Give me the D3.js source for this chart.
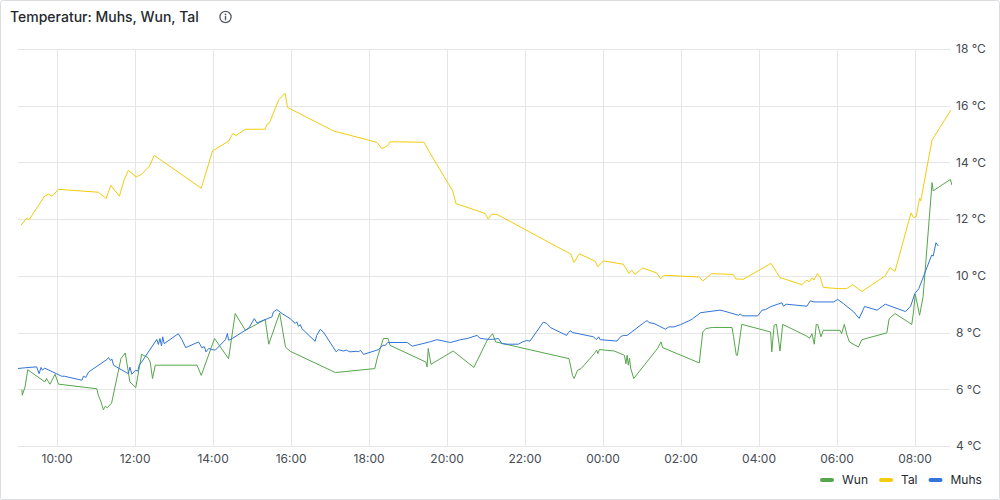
<!DOCTYPE html>
<html>
<head>
<meta charset="utf-8">
<script src="https://cdn.jsdelivr.net/npm/d3@7"></script>
<style>
  html, body { margin: 0; padding: 0; background: #fff; }
  svg { display: block; font-family: Inter, "Noto Sans", sans-serif; }
</style>
</head>
<body>
<svg id="chart" width="1000" height="500"></svg>
<script>
// time in hours since midnight of day 1 (values > 24 are the next day), temperature in °C
const talTimes = [9.09, 9.22, 9.30, 9.69, 9.79, 9.88, 10.05, 11.07, 11.27, 11.39, 11.61, 11.73, 11.84, 12.04, 12.18, 12.38, 12.42, 12.50, 13.71, 14.00, 14.41, 14.52, 14.60, 14.84, 15.35, 15.39, 15.46, 15.70, 15.86, 15.92, 17.10, 18.21, 18.34, 18.48, 18.55, 19.42, 19.58, 20.16, 20.24, 20.99, 21.07, 21.16, 21.29, 22.91, 23.12, 23.18, 23.27, 23.40, 23.81, 23.88, 24.02, 24.53, 24.68, 24.75, 24.83, 25.03, 25.39, 25.49, 25.58, 26.48, 26.57, 26.80, 27.35, 27.42, 27.61, 28.32, 28.55, 29.11, 29.24, 29.30, 29.38, 29.42, 29.51, 29.58, 29.66, 30.05, 30.26, 30.41, 30.65, 31.25, 31.37, 31.50, 31.91, 31.97, 32.04, 32.13, 32.16, 32.45, 32.93];
const talValues = [11.79, 12.02, 11.99, 12.81, 12.88, 12.81, 13.05, 12.95, 12.73, 13.19, 12.81, 13.38, 13.72, 13.49, 13.58, 13.87, 13.98, 14.25, 13.09, 14.41, 14.75, 15.02, 14.95, 15.17, 15.17, 15.34, 15.40, 16.22, 16.44, 15.94, 15.11, 14.71, 14.49, 14.58, 14.73, 14.71, 14.32, 12.99, 12.55, 12.20, 12.00, 12.17, 12.17, 10.97, 10.82, 10.78, 10.47, 10.78, 10.52, 10.32, 10.53, 10.41, 10.08, 10.20, 10.05, 10.28, 10.10, 9.90, 10.02, 9.96, 9.82, 10.08, 10.05, 9.89, 9.88, 10.44, 9.94, 9.69, 9.85, 9.79, 9.93, 9.85, 10.08, 9.96, 9.59, 9.55, 9.55, 9.69, 9.45, 10.00, 10.29, 10.16, 12.22, 12.06, 12.08, 12.73, 12.65, 14.79, 15.84];

const muhsTimes = [8.99, 9.20, 9.49, 9.55, 9.60, 9.64, 9.69, 10.13, 10.20, 10.65, 10.69, 10.75, 10.82, 11.29, 11.33, 11.38, 11.42, 11.46, 11.84, 11.88, 11.93, 12.02, 12.08, 12.12, 12.18, 12.57, 12.61, 12.65, 12.69, 12.72, 12.76, 13.12, 13.21, 13.31, 13.64, 13.68, 13.72, 13.79, 13.83, 13.90, 13.98, 14.07, 14.33, 14.38, 14.41, 14.48, 14.93, 15.07, 15.14, 15.35, 15.52, 15.56, 15.65, 15.78, 15.99, 16.12, 16.16, 16.20, 16.25, 16.29, 16.63, 16.67, 16.76, 16.84, 17.17, 17.23, 17.35, 17.43, 17.52, 17.70, 17.75, 17.79, 17.87, 18.26, 18.32, 18.37, 18.43, 18.49, 18.99, 19.12, 19.42, 19.59, 19.75, 20.10, 20.36, 20.53, 20.78, 20.86, 21.00, 21.17, 21.33, 21.42, 21.55, 21.84, 21.95, 22.05, 22.14, 22.48, 22.57, 22.66, 23.08, 23.12, 23.17, 23.24, 23.77, 23.84, 23.90, 23.94, 24.37, 24.46, 24.53, 24.63, 25.10, 25.15, 25.19, 25.32, 25.61, 25.70, 25.83, 26.00, 26.24, 26.30, 26.47, 26.51, 27.01, 27.11, 27.49, 27.53, 27.58, 27.98, 28.09, 28.18, 28.30, 28.60, 28.64, 28.71, 29.24, 29.33, 29.42, 29.93, 30.03, 30.18, 30.44, 30.58, 30.72, 31.04, 31.25, 31.77, 31.90, 32.01, 32.11, 32.44, 32.48, 32.55, 32.61];
const muhsValues = [6.73, 6.76, 6.79, 6.55, 6.77, 6.67, 6.75, 6.46, 6.46, 6.32, 6.46, 6.42, 6.61, 7.05, 7.12, 7.02, 7.06, 6.85, 6.55, 6.78, 6.53, 6.67, 6.64, 6.85, 6.96, 7.76, 7.58, 7.79, 7.53, 7.85, 7.61, 7.96, 7.76, 7.47, 7.67, 7.58, 7.47, 7.50, 7.32, 7.44, 7.40, 7.38, 7.75, 7.97, 7.73, 7.77, 8.16, 8.49, 8.34, 8.46, 8.55, 8.73, 8.81, 8.67, 8.49, 8.32, 8.38, 8.22, 8.28, 8.14, 7.69, 7.90, 8.11, 8.02, 7.32, 7.40, 7.35, 7.38, 7.32, 7.34, 7.32, 7.38, 7.23, 7.40, 7.49, 7.55, 7.55, 7.65, 7.65, 7.52, 7.62, 7.68, 7.75, 7.65, 7.75, 7.79, 7.90, 7.80, 7.77, 7.76, 7.79, 7.61, 7.59, 7.59, 7.67, 7.72, 7.70, 8.37, 8.32, 8.18, 7.90, 8.00, 8.06, 8.00, 7.85, 7.75, 7.85, 7.75, 7.70, 7.85, 7.90, 7.90, 8.39, 8.42, 8.35, 8.32, 8.12, 8.20, 8.20, 8.28, 8.43, 8.48, 8.65, 8.70, 8.79, 8.76, 8.61, 8.66, 8.59, 8.59, 8.79, 8.81, 8.91, 9.05, 8.93, 9.00, 8.93, 9.12, 9.08, 9.08, 9.17, 9.02, 8.73, 8.50, 8.92, 8.79, 9.00, 8.74, 8.93, 9.38, 9.55, 10.73, 10.70, 11.17, 11.05];

const wunTimes = [9.11, 9.12, 9.19, 9.26, 9.70, 9.74, 9.83, 9.96, 10.05, 11.03, 11.07, 11.14, 11.20, 11.25, 11.30, 11.41, 11.65, 11.76, 11.88, 12.03, 12.18, 12.34, 12.40, 12.46, 12.53, 13.60, 13.71, 14.05, 14.41, 14.58, 14.84, 15.35, 15.44, 15.72, 15.87, 15.99, 17.15, 18.16, 18.23, 18.31, 18.38, 18.50, 18.55, 19.47, 19.50, 19.53, 19.60, 20.17, 20.70, 21.05, 21.18, 21.26, 23.14, 23.23, 23.27, 23.36, 23.45, 23.79, 23.85, 23.88, 23.92, 24.30, 24.56, 24.60, 24.63, 24.66, 24.69, 24.72, 24.80, 25.41, 25.50, 25.54, 26.48, 26.57, 26.65, 26.81, 27.32, 27.36, 27.43, 27.46, 27.57, 28.31, 28.34, 28.40, 28.46, 28.55, 28.62, 29.24, 29.31, 29.37, 29.43, 29.48, 29.52, 29.60, 29.66, 30.09, 30.13, 30.20, 30.26, 30.33, 30.56, 30.65, 31.29, 31.35, 31.50, 31.93, 31.97, 32.02, 32.13, 32.22, 32.45, 32.48, 32.92, 32.96];
const wunValues = [5.99, 5.79, 6.08, 6.69, 6.26, 6.38, 6.18, 6.53, 6.18, 6.02, 5.79, 5.55, 5.28, 5.40, 5.35, 5.51, 7.08, 7.28, 6.26, 6.06, 7.23, 7.12, 6.96, 6.38, 6.85, 6.85, 6.49, 7.79, 7.08, 8.67, 8.08, 8.46, 7.59, 8.69, 7.49, 7.34, 6.59, 6.73, 7.14, 7.49, 7.79, 7.79, 7.55, 6.96, 6.79, 7.44, 6.88, 7.35, 6.77, 7.75, 7.96, 7.67, 7.08, 6.49, 6.38, 6.67, 6.73, 7.26, 7.38, 7.26, 7.40, 7.35, 7.20, 6.90, 7.20, 6.85, 7.10, 6.75, 6.38, 7.44, 7.67, 7.47, 6.93, 8.02, 8.14, 8.18, 8.18, 7.85, 7.20, 7.20, 8.29, 8.02, 7.32, 8.26, 8.29, 7.35, 8.29, 7.87, 7.80, 7.96, 7.59, 8.29, 8.28, 7.85, 8.08, 8.08, 7.96, 8.29, 7.95, 7.67, 7.49, 7.75, 7.99, 8.49, 8.67, 8.29, 8.69, 9.35, 8.61, 9.26, 13.29, 13.00, 13.40, 13.20];

const seriesNames = ["Wun", "Tal", "Muhs"];
const seriesColors = ["#56A64B", "#F2CC0C", "#3274D9"];
const yTicks = [4, 6, 8, 10, 12, 14, 16, 18];
const title = "Temperatur: Muhs, Wun, Tal";

const day0 = new Date(2024, 0, 15, 0, 0, 0);
const toDate = (h) => new Date(day0.getTime() + h * 3600000);

const zip = (times, values) => times.map((t, i) => ({ date: toDate(t), value: values[i] }));
const series = [
    { name: "Wun", color: seriesColors[0], data: zip(wunTimes, wunValues) },
    { name: "Tal", color: seriesColors[1], data: zip(talTimes, talValues) },
    { name: "Muhs", color: seriesColors[2], data: zip(muhsTimes, muhsValues) },
];

const svg = d3.select("#chart");
const textColor = "#24292e";
const axisColor = "#464c54";
const gridColor = "#e6e6e7";

// panel border
svg.append("rect")
    .attr("x", 0.5).attr("y", 0.5)
    .attr("width", 999).attr("height", 499)
    .attr("rx", 2)
    .attr("fill", "#fff")
    .attr("stroke", "#dcdde0");

// title + info icon
svg.append("text")
    .attr("x", 10).attr("y", 22)
    .attr("font-size", 14).attr("font-weight", 500)
    .attr("fill", textColor)
    .text(title);

const info = svg.append("g").attr("transform", "translate(225.5,17)");
info.append("circle").attr("r", 5.6).attr("fill", "none").attr("stroke", "#555a61").attr("stroke-width", 1.3);
info.append("line").attr("x1", 0).attr("x2", 0).attr("y1", -0.6).attr("y2", 2.8)
    .attr("stroke", "#555a61").attr("stroke-width", 1.4).attr("stroke-linecap", "round");
info.append("circle").attr("cx", 0).attr("cy", -2.7).attr("r", 0.9).attr("fill", "#555a61");

const plot = { left: 18, right: 950, top: 49, bottom: 446 };

const x = d3.scaleTime()
    .domain([toDate(9.01), toDate(32.91)])
    .range([plot.left, plot.right]);
const y = d3.scaleLinear()
    .domain([4, 18])
    .range([plot.bottom, plot.top]);

const xTicks = x.ticks(d3.timeHour.every(2));

// grid
const grid = svg.append("g");
grid.selectAll(".hg")
    .data(yTicks)
    .join("line")
    .attr("x1", plot.left).attr("x2", plot.right)
    .attr("y1", (d) => Math.round(y(d)) + 0.5).attr("y2", (d) => Math.round(y(d)) + 0.5)
    .attr("stroke", gridColor);
grid.selectAll(".vg")
    .data(xTicks)
    .join("line")
    .attr("x1", (d) => Math.round(x(d)) + 0.5).attr("x2", (d) => Math.round(x(d)) + 0.5)
    .attr("y1", plot.top).attr("y2", plot.bottom)
    .attr("stroke", gridColor);

// axes
const yAxis = d3.axisRight(y)
    .tickValues(yTicks)
    .tickSize(0)
    .tickPadding(6)
    .tickFormat((d) => `${d} °C`);
svg.append("g")
    .attr("transform", `translate(${plot.right},0)`)
    .call(yAxis)
    .call((g) => g.select(".domain").remove())
    .call((g) => g.selectAll("text")
        .attr("fill", axisColor)
        .attr("font-size", 12)
        .attr("font-family", "Inter, 'Noto Sans', sans-serif"));

const xAxis = d3.axisBottom(x)
    .tickValues(xTicks)
    .tickSize(0)
    .tickPadding(8)
    .tickFormat(d3.timeFormat("%H:%M"));
svg.append("g")
    .attr("transform", `translate(0,${plot.bottom})`)
    .call(xAxis)
    .call((g) => g.select(".domain").remove())
    .call((g) => g.selectAll("text")
        .attr("fill", axisColor)
        .attr("font-size", 12)
        .attr("font-family", "Inter, 'Noto Sans', sans-serif"));

// lines
const line = d3.line()
    .x((d) => x(d.date))
    .y((d) => y(d.value));

svg.append("defs").append("clipPath").attr("id", "clip")
    .append("rect")
    .attr("x", plot.left).attr("y", plot.top - 2)
    .attr("width", plot.right - plot.left + 2).attr("height", plot.bottom - plot.top + 4);

svg.append("g")
    .attr("clip-path", "url(#clip)")
    .selectAll("path")
    .data(series)
    .join("path")
    .attr("d", (s) => line(s.data))
    .attr("fill", "none")
    .attr("stroke", (s) => s.color)
    .attr("stroke-width", 1)
    .attr("stroke-linejoin", "round");

// legend
const legend = svg.append("g").attr("transform", "translate(820,480)");
let lx = 0;
series.forEach((s) => {
    const item = legend.append("g").attr("transform", `translate(${lx},0)`);
    item.append("rect")
        .attr("x", 0).attr("y", -2)
        .attr("width", 14).attr("height", 4)
        .attr("rx", 2)
        .attr("fill", s.color);
    const t = item.append("text")
        .attr("x", 22).attr("y", 4.3)
        .attr("font-size", 12)
        .attr("fill", textColor)
        .text(s.name);
    lx += 22 + t.node().getComputedTextLength() + 11;
});
</script>
</body>
</html>
